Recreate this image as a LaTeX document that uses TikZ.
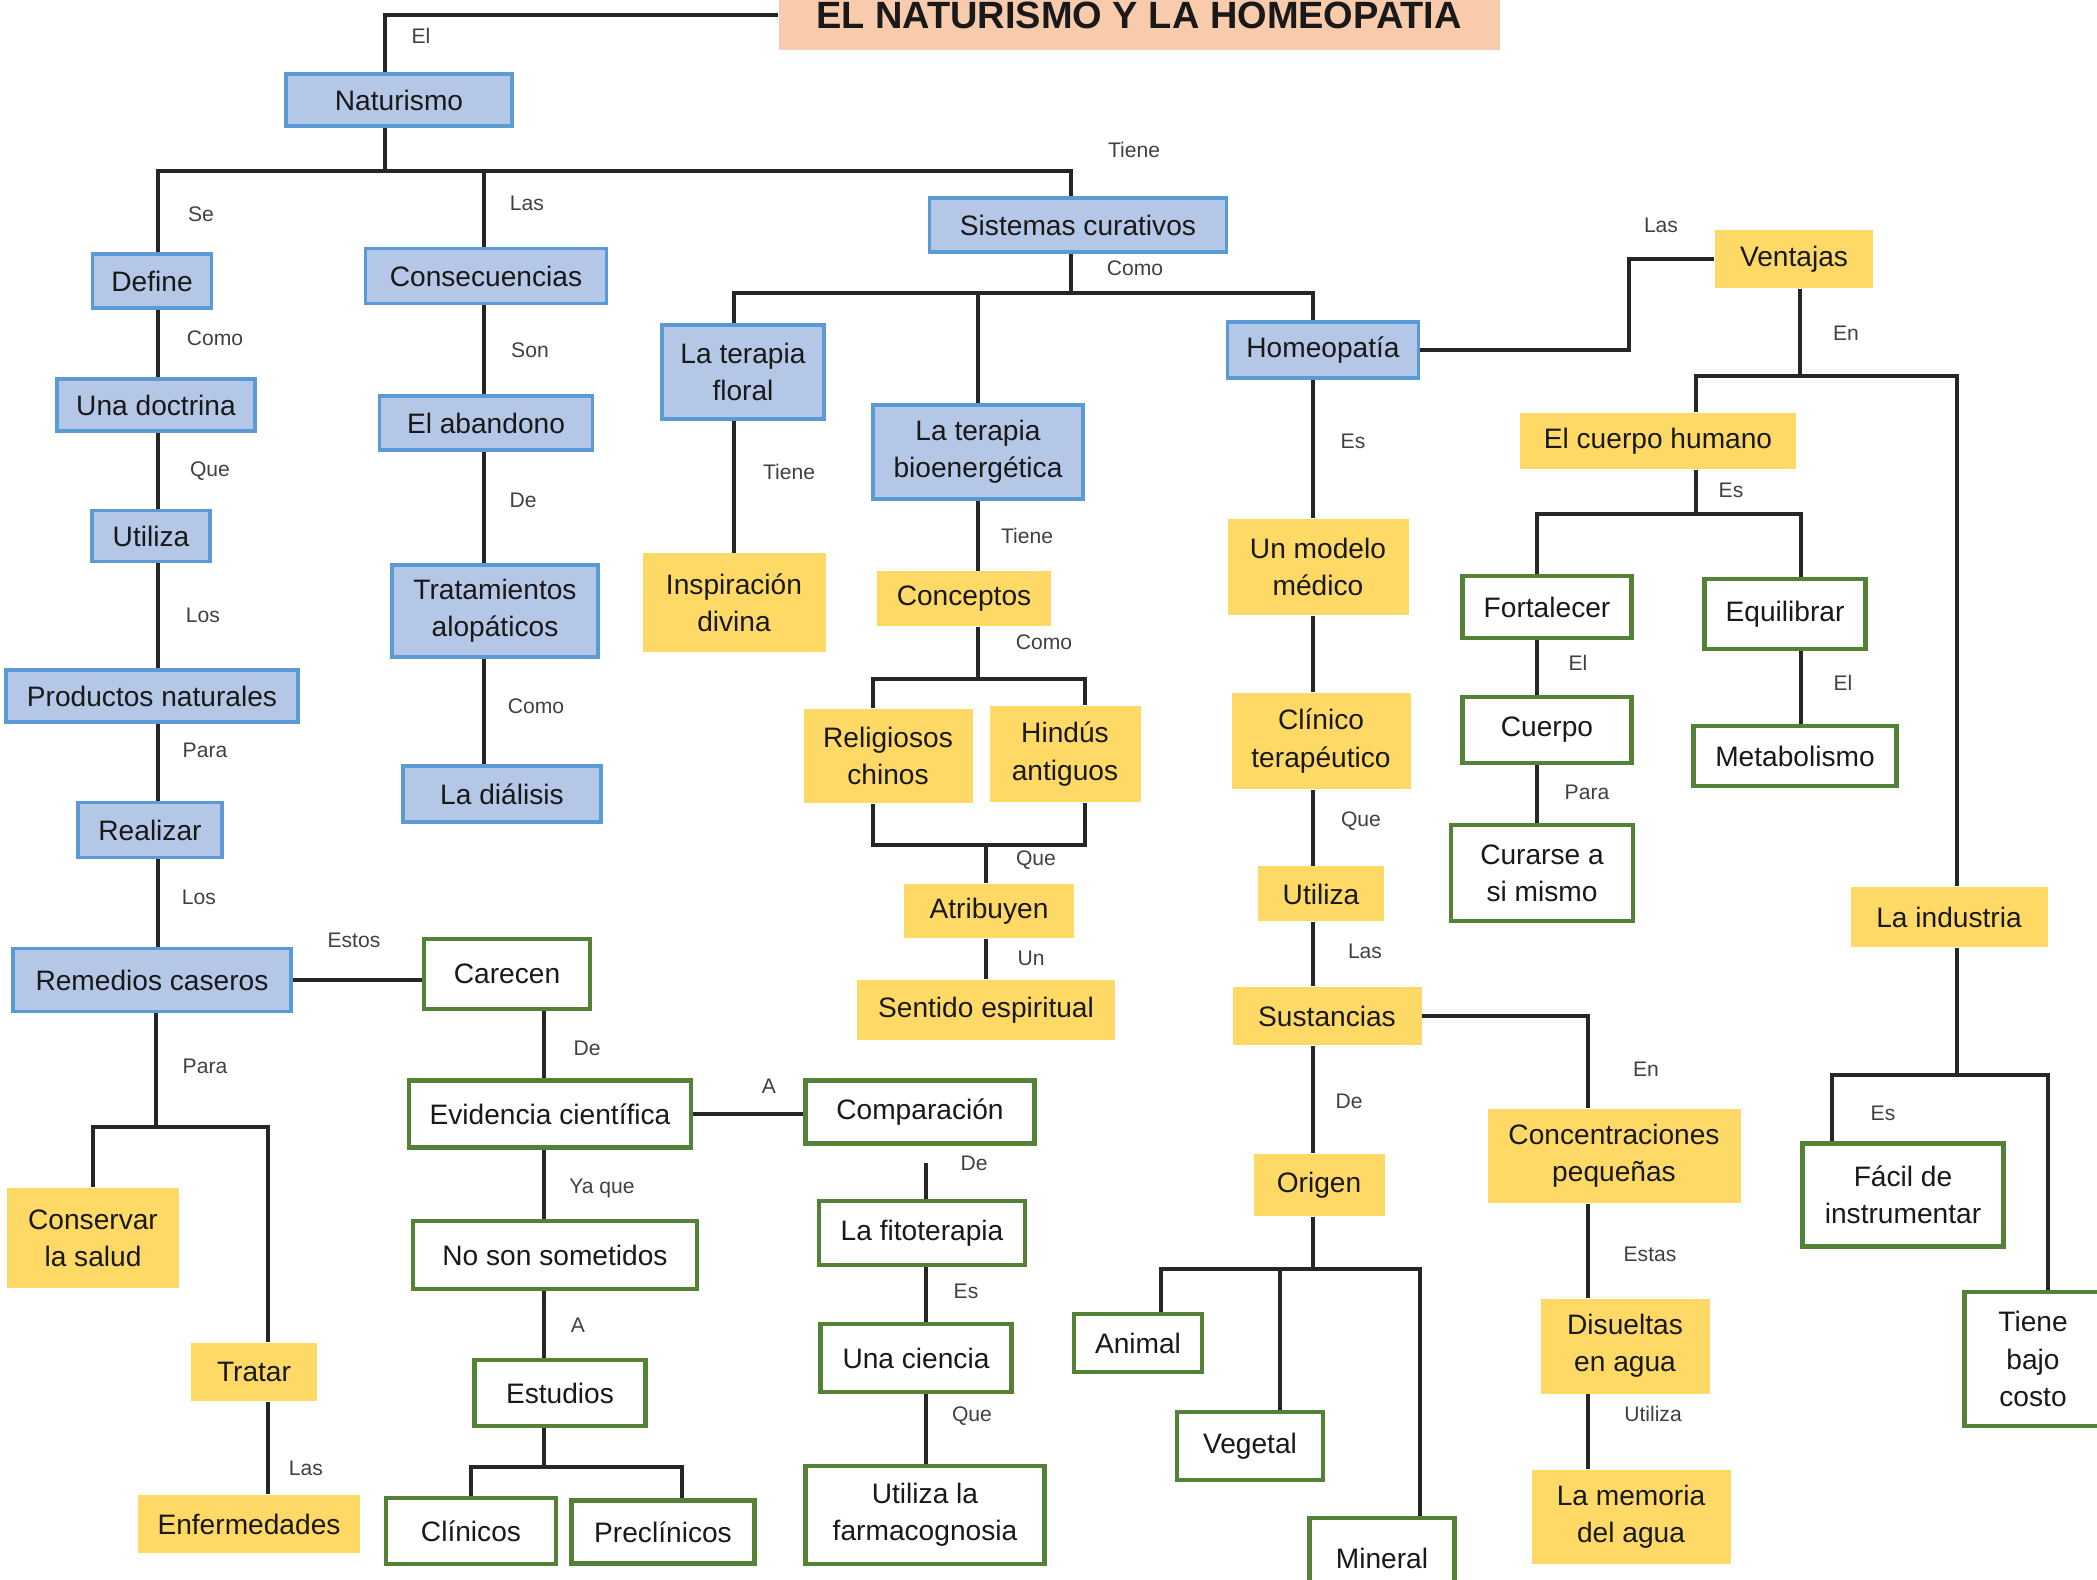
\documentclass[tikz,border=0pt]{standalone}
\usepackage{fontspec}
\setmainfont{Liberation Sans}
\definecolor{boxblue}{HTML}{B4C7E7}
\definecolor{lineblue}{HTML}{5B9BD5}
\definecolor{boxyellow}{HTML}{FFD966}
\definecolor{boxgreen}{HTML}{538135}
\definecolor{titlepeach}{HTML}{F8CBAD}
\definecolor{labelgray}{HTML}{404040}
\tikzset{
    base/.style={inner sep=0pt, align=center, text=black!90, font=\fontsize{8}{10.6}\selectfont},
    sz/.style 2 args={minimum width=#1*0.01cm, minimum height=#2*0.01cm},
    bluebox/.style={base, fill=boxblue, draw=lineblue, line width=0.9pt},
    yellowbox/.style={base, fill=boxyellow},
    greenbox/.style={base, fill=white, draw=boxgreen, line width=1.4pt},
    lbl/.style={inner sep=0pt, text=labelgray, font=\fontsize{6}{7}\selectfont},
    conn/.style={draw=black!85, line width=1pt}
}
\begin{document}
\begin{tikzpicture}[x=0.01cm, y=-0.01cm]
        \useasboundingbox (0,0) rectangle (2097,1580);
        \node[base, fill=titlepeach, sz={721}{70}, font=\fontsize{10.8}{13}\selectfont\bfseries] (title) at (1139,15) {EL NATURISMO Y LA HOMEOPATIA};
        \node[bluebox, sz={226}{52}] (naturismo) at (399,100) {Naturismo};
        \node[bluebox, sz={119}{54}] (define) at (152,281) {Define};
        \node[bluebox, sz={198}{52}] (doctrina) at (156,405) {Una doctrina};
        \node[bluebox, sz={118}{51}] (utilizaA) at (151,536) {Utiliza};
        \node[bluebox, sz={292}{52}] (productos) at (152,696) {Productos naturales};
        \node[bluebox, sz={144}{55}] (realizar) at (150,830) {Realizar};
        \node[bluebox, sz={278}{63}] (remedios) at (152,980) {Remedios caseros};
        \node[yellowbox, sz={172}{100}] (conservar) at (93,1238) {Conservar\\la salud};
        \node[yellowbox, sz={126}{58}] (tratar) at (254,1372) {Tratar};
        \node[yellowbox, sz={222}{58}] (enfermedades) at (249,1524) {Enfermedades};
        \node[greenbox, sz={166}{70}] (carecen) at (507,974) {Carecen};
        \node[greenbox, sz={282}{67}] (evidencia) at (550,1114) {Evidencia científica};
        \node[greenbox, sz={284}{68}] (nosometidos) at (555,1255) {No son sometidos};
        \node[greenbox, sz={171}{66}] (estudios) at (560,1393) {Estudios};
        \node[greenbox, sz={170}{66}] (clinicos) at (471,1531) {Clínicos};
        \node[greenbox, sz={183}{63}] (preclinicos) at (663,1532) {Preclínicos};
        \node[greenbox, sz={229}{63}] (comparacion) at (920,1112) {Comparación};
        \node[greenbox, sz={206}{64}] (fitoterapia) at (922,1233) {La fitoterapia};
        \node[greenbox, sz={191}{68}] (ciencia) at (916,1358) {Una ciencia};
        \node[greenbox, sz={239}{98}] (farmaco) at (925,1515) {Utiliza la\\farmacognosia};
        \node[bluebox, sz={241}{55}] (consec) at (486,276) {Consecuencias};
        \node[bluebox, sz={213}{54}] (abandono) at (486,423) {El abandono};
        \node[bluebox, sz={206}{92}] (tratamientos) at (495,611) {Tratamientos\\alopáticos};
        \node[bluebox, sz={198}{56}] (dialisis) at (502,794) {La diálisis};
        \node[bluebox, sz={297}{54}] (sistemas) at (1078,225) {Sistemas curativos};
        \node[bluebox, sz={162}{94}] (floral) at (743,372) {La terapia\\floral};
        \node[yellowbox, sz={183}{99}] (inspiracion) at (734,603) {Inspiración\\divina};
        \node[bluebox, sz={210}{94}] (bioener) at (978,452) {La terapia\\bioenergética};
        \node[yellowbox, sz={174}{55}] (conceptos) at (964,599) {Conceptos};
        \node[yellowbox, sz={169}{94}] (religiosos) at (888,756) {Religiosos\\chinos};
        \node[yellowbox, sz={151}{96}] (hindus) at (1065,754) {Hindús\\antiguos};
        \node[yellowbox, sz={170}{54}] (atribuyen) at (989,911) {Atribuyen};
        \node[yellowbox, sz={258}{60}] (sentido) at (986,1010) {Sentido espiritual};
        \node[bluebox, sz={191}{56}] (homeopatia) at (1323,350) {Homeopatía};
        \node[yellowbox, sz={181}{96}] (modelo) at (1318,567) {Un modelo\\médico};
        \node[yellowbox, sz={179}{96}] (clinico) at (1321,741) {Clínico\\terapéutico};
        \node[yellowbox, sz={126}{55}] (utilizaB) at (1321,894) {Utiliza};
        \node[yellowbox, sz={189}{58}] (sustancias) at (1327,1016) {Sustancias};
        \node[yellowbox, sz={131}{62}] (origen) at (1319,1185) {Origen};
        \node[greenbox, sz={128}{58}] (animal) at (1138,1343) {Animal};
        \node[greenbox, sz={146}{68}] (vegetal) at (1250,1446) {Vegetal};
        \node[greenbox, sz={145}{80}] (mineral) at (1382,1558) {Mineral};
        \node[yellowbox, sz={253}{94}] (concent) at (1614,1156) {Concentraciones\\pequeñas};
        \node[yellowbox, sz={169}{95}] (disueltas) at (1625,1346) {Disueltas\\en agua};
        \node[yellowbox, sz={199}{94}] (memoria) at (1631,1517) {La memoria\\del agua};
        \node[yellowbox, sz={158}{58}] (ventajas) at (1794,259) {Ventajas};
        \node[yellowbox, sz={276}{56}] (cuerpoh) at (1658,441) {El cuerpo humano};
        \node[greenbox, sz={169}{62}] (fortalecer) at (1547,607) {Fortalecer};
        \node[greenbox, sz={169}{66}] (cuerpo) at (1547,730) {Cuerpo};
        \node[greenbox, sz={182}{96}] (curarse) at (1542,873) {Curarse a\\si mismo};
        \node[greenbox, sz={161}{70}] (equilibrar) at (1785,614) {Equilibrar};
        \node[greenbox, sz={203}{60}] (metabolismo) at (1795,756) {Metabolismo};
        \node[yellowbox, sz={197}{60}] (industria) at (1949,917) {La industria};
        \node[greenbox, sz={201}{103}] (facil) at (1903,1195) {Fácil de\\instrumentar};
        \node[greenbox, sz={137}{134}] (bajocosto) at (2033,1359) {Tiene\\bajo\\costo};

        \coordinate (jNat) at (385,171);
        \coordinate (jRem) at (156,1127);
        \coordinate (jEst) at (544,1467);
        \coordinate (jSis) at (1071,293);
        \coordinate (jCon) at (978,679);
        \coordinate (jAtr) at (986,845);
        \coordinate (jOri) at (1313,1269);
        \coordinate (jVen) at (1800,376);
        \coordinate (jECH) at (1696,514);
        \coordinate (jInd) at (1957,1075);
        \coordinate (bendV) at (1629,300);
        \coordinate (colL) at (158,0);
        \coordinate (colTr) at (268,0);
        \coordinate (colCo) at (484,0);
        \coordinate (colCa) at (544,0);
        \coordinate (colPr) at (682,0);
        \coordinate (colCm) at (926,0);
        \coordinate (colFl) at (734,0);
        \coordinate (colBi) at (978,0);
        \coordinate (colRe) at (873,0);
        \coordinate (colHi) at (1085,0);
        \coordinate (colHo) at (1313,0);
        \coordinate (colAn) at (1161,0);
        \coordinate (colVe) at (1280,0);
        \coordinate (colMi) at (1420,0);
        \coordinate (colSu) at (1588,0);
        \coordinate (colFo) at (1537,0);
        \coordinate (colEq) at (1801,0);
        \coordinate (colFa) at (1832,0);
        \coordinate (colBc) at (2048,0);

        \draw[conn] (title.west) -| (naturismo.north -| jNat);
        \draw[conn] (naturismo.south -| jNat) -- (jNat);
        \draw[conn] (define.north -| colL) |- (jNat) -| (sistemas.north -| jSis);
        \draw[conn] (consec.north -| colCo) -- (jNat -| colCo);
        \draw[conn] (define.south -| colL) -- (doctrina.north -| colL);
        \draw[conn] (doctrina.south -| colL) -- (utilizaA.north -| colL);
        \draw[conn] (utilizaA.south -| colL) -- (productos.north -| colL);
        \draw[conn] (productos.south -| colL) -- (realizar.north -| colL);
        \draw[conn] (realizar.south -| colL) -- (remedios.north -| colL);
        \draw[conn] (remedios.south -| jRem) -- (jRem);
        \draw[conn] (conservar.north) |- (jRem) -| (tratar.north -| colTr);
        \draw[conn] (tratar.south -| colTr) -- (enfermedades.north -| colTr);
        \draw[conn] (remedios.east) -- (remedios.east -| carecen.west);
        \draw[conn] (carecen.south -| colCa) -- (evidencia.north -| colCa);
        \draw[conn] (evidencia.south -| colCa) -- (nosometidos.north -| colCa);
        \draw[conn] (nosometidos.south -| colCa) -- (estudios.north -| colCa);
        \draw[conn] (estudios.south -| colCa) -- (jEst);
        \draw[conn] (clinicos.north) |- (jEst) -| (preclinicos.north -| colPr);
        \draw[conn] (evidencia.east) -- (evidencia.east -| comparacion.west);
        \draw[conn, shorten <=0.17cm] (comparacion.south -| colCm) -- (fitoterapia.north -| colCm);
        \draw[conn] (fitoterapia.south -| colCm) -- (ciencia.north -| colCm);
        \draw[conn] (ciencia.south -| colCm) -- (farmaco.north -| colCm);
        \draw[conn] (consec.south -| colCo) -- (abandono.north -| colCo);
        \draw[conn] (abandono.south -| colCo) -- (tratamientos.north -| colCo);
        \draw[conn] (tratamientos.south -| colCo) -- (dialisis.north -| colCo);
        \draw[conn] (sistemas.south -| jSis) -- (jSis);
        \draw[conn] (floral.north -| colFl) |- (jSis) -| (homeopatia.north -| colHo);
        \draw[conn] (bioener.north -| colBi) -- (jSis -| colBi);
        \draw[conn] (floral.south -| colFl) -- (inspiracion.north -| colFl);
        \draw[conn] (bioener.south -| colBi) -- (conceptos.north -| colBi);
        \draw[conn] (conceptos.south -| colBi) -- (jCon);
        \draw[conn] (religiosos.north -| colRe) |- (jCon) -| (hindus.north -| colHi);
        \draw[conn] (religiosos.south -| colRe) |- (jAtr) -| (hindus.south -| colHi);
        \draw[conn] (jAtr) -- (atribuyen.north -| jAtr);
        \draw[conn] (atribuyen.south -| jAtr) -- (sentido.north -| jAtr);
        \draw[conn] (homeopatia.south -| colHo) -- (modelo.north -| colHo);
        \draw[conn] (modelo.south -| colHo) -- (clinico.north -| colHo);
        \draw[conn] (clinico.south -| colHo) -- (utilizaB.north -| colHo);
        \draw[conn] (utilizaB.south -| colHo) -- (sustancias.north -| colHo);
        \draw[conn] (sustancias.south -| colHo) -- (origen.north -| colHo);
        \draw[conn] (origen.south -| colHo) -- (jOri);
        \draw[conn] (animal.north -| colAn) |- (jOri) -| (mineral.north -| colMi);
        \draw[conn] (vegetal.north -| colVe) -- (jOri -| colVe);
        \draw[conn] (homeopatia.east) -| (bendV) |- (ventajas.west);
        \draw[conn] (sustancias.east) -| (concent.north -| colSu);
        \draw[conn] (concent.south -| colSu) -- (disueltas.north -| colSu);
        \draw[conn] (disueltas.south -| colSu) -- (memoria.north -| colSu);
        \draw[conn] (ventajas.south -| jVen) -- (jVen);
        \draw[conn] (cuerpoh.north -| jECH) |- (jVen) -| (industria.north -| jInd);
        \draw[conn] (cuerpoh.south -| jECH) -- (jECH);
        \draw[conn] (fortalecer.north -| colFo) |- (jECH) -| (equilibrar.north -| colEq);
        \draw[conn] (fortalecer.south -| colFo) -- (cuerpo.north -| colFo);
        \draw[conn] (cuerpo.south -| colFo) -- (curarse.north -| colFo);
        \draw[conn] (equilibrar.south -| colEq) -- (metabolismo.north -| colEq);
        \draw[conn] (industria.south -| jInd) -- (jInd);
        \draw[conn] (facil.north -| colFa) |- (jInd) -| (bajocosto.north -| colBc);

        \node[lbl] (lb1) at (421,36) {El};
        \node[lbl] (lb2) at (201,214) {Se};
        \node[lbl] (lb3) at (527,203) {Las};
        \node[lbl] (lb4) at (1134,150) {Tiene};
        \node[lbl] (lb5) at (215,338) {Como};
        \node[lbl] (lb6) at (210,471) {Que};
        \node[lbl] (lb7) at (203,615) {Los};
        \node[lbl] (lb8) at (205,750) {Para};
        \node[lbl] (lb9) at (199,897) {Los};
        \node[lbl] (lb10) at (205,1066) {Para};
        \node[lbl] (lb11) at (354,940) {Estos};
        \node[lbl] (lb12) at (306,1468) {Las};
        \node[lbl] (lb13) at (587,1048) {De};
        \node[lbl] (lb14) at (602,1188) {Ya que};
        \node[lbl] (lb15) at (578,1325) {A};
        \node[lbl] (lb16) at (769,1086) {A};
        \node[lbl] (lb17) at (974,1163) {De};
        \node[lbl] (lb18) at (966,1291) {Es};
        \node[lbl] (lb19) at (972,1416) {Que};
        \node[lbl] (lb20) at (530,350) {Son};
        \node[lbl] (lb21) at (523,500) {De};
        \node[lbl] (lb22) at (536,706) {Como};
        \node[lbl] (lb23) at (1135,268) {Como};
        \node[lbl] (lb24) at (789,472) {Tiene};
        \node[lbl] (lb25) at (1027,536) {Tiene};
        \node[lbl] (lb26) at (1044,642) {Como};
        \node[lbl] (lb27) at (1036,860) {Que};
        \node[lbl] (lb28) at (1031,958) {Un};
        \node[lbl] (lb29) at (1661,225) {Las};
        \node[lbl] (lb30) at (1353,441) {Es};
        \node[lbl] (lb31) at (1361,821) {Que};
        \node[lbl] (lb32) at (1365,951) {Las};
        \node[lbl] (lb33) at (1349,1101) {De};
        \node[lbl] (lb34) at (1646,1069) {En};
        \node[lbl] (lb35) at (1650,1254) {Estas};
        \node[lbl] (lb36) at (1653,1414) {Utiliza};
        \node[lbl] (lb37) at (1846,333) {En};
        \node[lbl] (lb38) at (1731,490) {Es};
        \node[lbl] (lb39) at (1578,663) {El};
        \node[lbl] (lb40) at (1587,792) {Para};
        \node[lbl] (lb41) at (1843,683) {El};
        \node[lbl] (lb42) at (1883,1113) {Es};
    \end{tikzpicture}
\end{document}
